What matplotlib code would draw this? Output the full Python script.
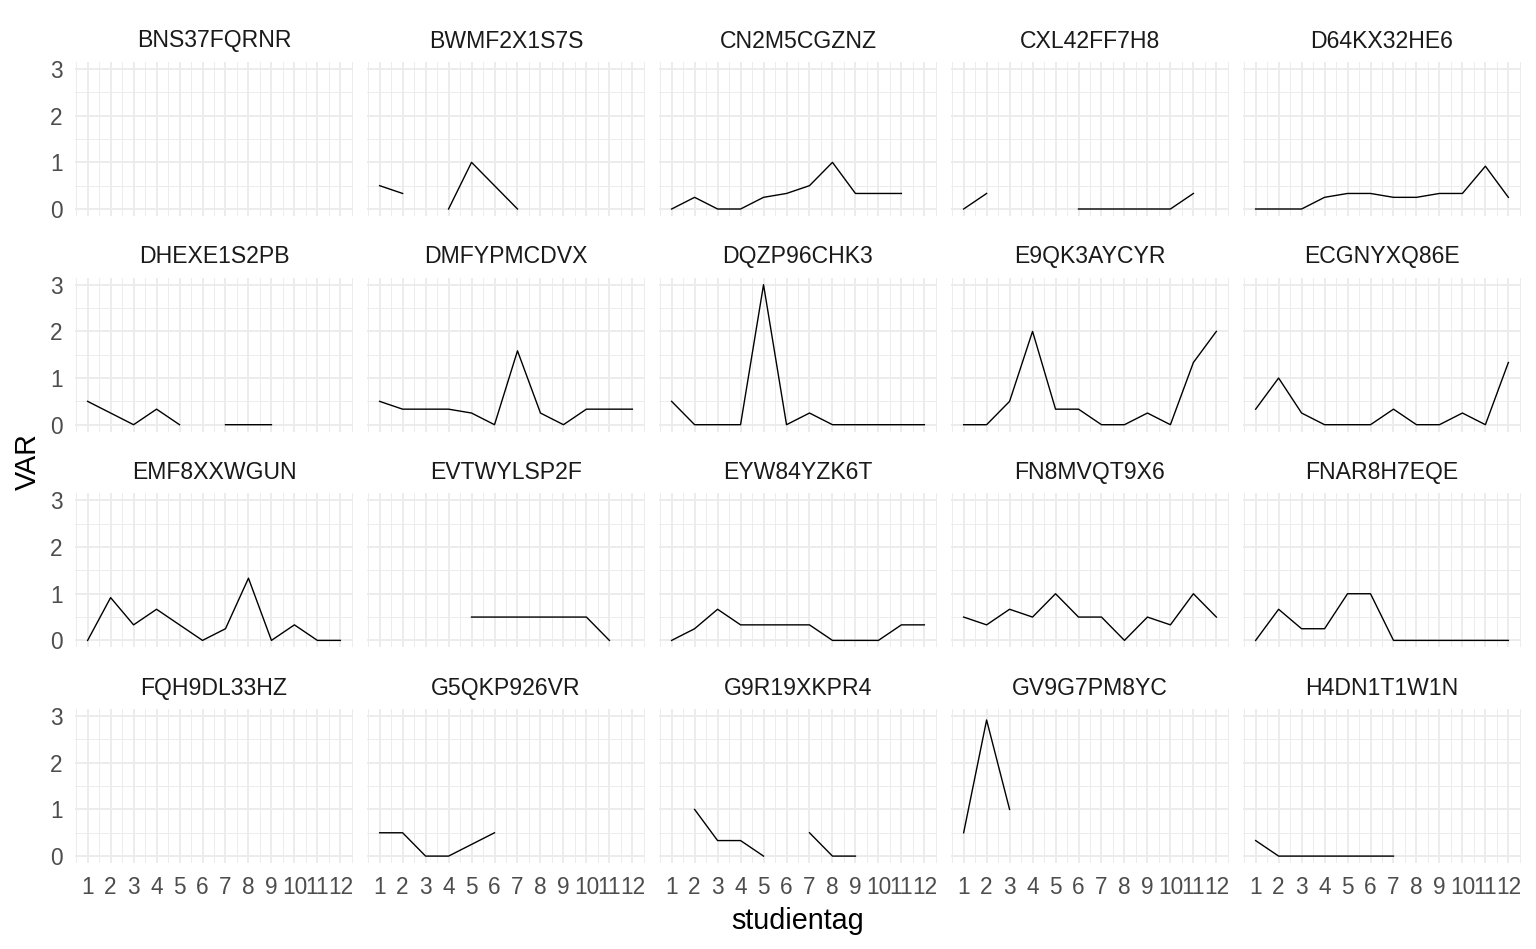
import matplotlib
matplotlib.use("Agg")
import matplotlib.pyplot as plt
import numpy as np

nan = float("nan")

# studientag 1..12, VAR per participant (nan = no value that day)
studientag = [1, 2, 3, 4, 5, 6, 7, 8, 9, 10, 11, 12]

ids = ["BNS37FQRNR", "BWMF2X1S7S", "CN2M5CGZNZ", "CXL42FF7H8", "D64KX32HE6",
       "DHEXE1S2PB", "DMFYPMCDVX", "DQZP96CHK3", "E9QK3AYCYR", "ECGNYXQ86E",
       "EMF8XXWGUN", "EVTWYLSP2F", "EYW84YZK6T", "FN8MVQT9X6", "FNAR8H7EQE",
       "FQH9DL33HZ", "G5QKP926VR", "G9R19XKPR4", "GV9G7PM8YC", "H4DN1T1W1N"]

var_bns37fqrnr = [nan, nan, nan, nan, nan, nan, nan, nan, nan, nan, nan, nan]
var_bwmf2x1s7s = [0.5, 0.333, nan, 0, 1, 0.5, 0, nan, nan, nan, nan, nan]
var_cn2m5cgznz = [0, 0.25, 0, 0, 0.25, 0.333, 0.5, 1, 0.333, 0.333, 0.333, nan]
var_cxl42ff7h8 = [0, 0.333, nan, nan, nan, 0, 0, 0, 0, 0, 0.333, nan]
var_d64kx32he6 = [0, 0, 0, 0.25, 0.333, 0.333, 0.25, 0.25, 0.333, 0.333, 0.917, 0.25]
var_dhexe1s2pb = [0.5, 0.25, 0, 0.333, 0, nan, 0, 0, 0, nan, nan, nan]
var_dmfypmcdvx = [0.5, 0.333, 0.333, 0.333, 0.25, 0, 1.583, 0.25, 0, 0.333, 0.333, 0.333]
var_dqzp96chk3 = [0.5, 0, 0, 0, 3, 0, 0.25, 0, 0, 0, 0, 0]
var_e9qk3aycyr = [0, 0, 0.5, 2, 0.333, 0.333, 0, 0, 0.25, 0, 1.333, 2]
var_ecgnyxq86e = [0.333, 1, 0.25, 0, 0, 0, 0.333, 0, 0, 0.25, 0, 1.333]
var_emf8xxwgun = [0, 0.917, 0.333, 0.667, 0.333, 0, 0.25, 1.333, 0, 0.333, 0, 0]
var_evtwylsp2f = [nan, nan, nan, nan, 0.5, 0.5, 0.5, 0.5, 0.5, 0.5, 0, nan]
var_eyw84yzk6t = [0, 0.25, 0.667, 0.333, 0.333, 0.333, 0.333, 0, 0, 0, 0.333, 0.333]
var_fn8mvqt9x6 = [0.5, 0.333, 0.667, 0.5, 1, 0.5, 0.5, 0, 0.5, 0.333, 1, 0.5]
var_fnar8h7eqe = [0, 0.667, 0.25, 0.25, 1, 1, 0, 0, 0, 0, 0, 0]
var_fqh9dl33hz = [nan, nan, nan, nan, nan, nan, nan, nan, nan, nan, nan, nan]
var_g5qkp926vr = [0.5, 0.5, 0, 0, 0.25, 0.5, nan, nan, nan, nan, nan, nan]
var_g9r19xkpr4 = [nan, 1, 0.333, 0.333, 0, nan, 0.5, 0, 0, nan, nan, nan]
var_gv9g7pm8yc = [0.5, 2.917, 1, nan, nan, nan, nan, nan, nan, nan, nan, nan]
var_h4dn1t1w1n = [0.333, 0, 0, 0, 0, 0, 0, nan, nan, nan, nan, nan]

series = [var_bns37fqrnr, var_bwmf2x1s7s, var_cn2m5cgznz, var_cxl42ff7h8, var_d64kx32he6,
          var_dhexe1s2pb, var_dmfypmcdvx, var_dqzp96chk3, var_e9qk3aycyr, var_ecgnyxq86e,
          var_emf8xxwgun, var_evtwylsp2f, var_eyw84yzk6t, var_fn8mvqt9x6, var_fnar8h7eqe,
          var_fqh9dl33hz, var_g5qkp926vr, var_g9r19xkpr4, var_gv9g7pm8yc, var_h4dn1t1w1n]

plt.rcParams['font.family'] = ['Liberation Sans', 'DejaVu Sans']

W, H = 1536, 949
fig = plt.figure(figsize=(W / 100, H / 100), dpi=100)

ncol, nrow = 5, 4
pw, ph = 278, 154          # panel size in px
left0, colstep = 75, 292
top0, rowstep = 62, 215.7

grid_col = "#EBEBEB"

for i, (name, vals) in enumerate(zip(ids, series)):
  r, c = divmod(i, ncol)
  left = left0 + c * colstep
  top = top0 + r * rowstep
  ax = fig.add_axes([left / W, 1 - (top + ph) / H, pw / W, ph / H])
  ax.set_xlim(0.45, 12.55)
  ax.set_ylim(-0.15, 3.15)
  ax.set_xticks(studientag)
  ax.set_xticks(np.arange(0.5, 13, 1.0), minor=True)
  ax.set_yticks([0, 1, 2, 3])
  ax.set_yticks([0.5, 1.5, 2.5], minor=True)
  ax.set_axisbelow(True)
  ax.grid(True, which="major", color=grid_col, lw=1.3)
  ax.grid(True, which="minor", color=grid_col, lw=0.65)
  for s in ax.spines.values():
    s.set_visible(False)
  ax.tick_params(which="both", length=0)
  ax.tick_params(axis="y", pad=9, labelsize=16.3, labelcolor="#4D4D4D")
  ax.tick_params(axis="x", pad=9.5, labelsize=16.3, labelcolor="#4D4D4D")
  if c != 0:
    ax.tick_params(axis="y", labelleft=False)
  if r != nrow - 1:
    ax.tick_params(axis="x", labelbottom=False)

  ax.plot(studientag, vals, color="black", lw=1.0)

  ax.text(0.5, 1 + 21 / ph, name, transform=ax.transAxes, ha="center", va="center",
          fontsize=16.6, color="#1A1A1A")

fig.text(28 / W, 1 - 462 / H, "VAR", rotation=90, ha="center", va="center", fontsize=20.7)
fig.text(798 / W, 1 - 921 / H, "studientag", ha="center", va="center", fontsize=20.7)

fig.savefig("out.png", dpi=100)
